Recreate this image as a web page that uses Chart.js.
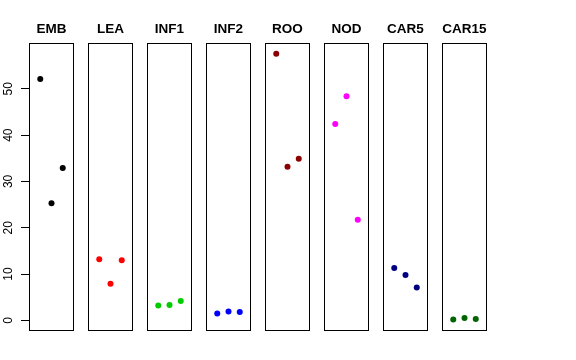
<!DOCTYPE html>
<html>
<head>
<meta charset="utf-8">
<script src="https://cdn.jsdelivr.net/npm/chart.js@4/dist/chart.umd.min.js"></script>
<style>
html,body{margin:0;padding:0;background:#fff;}
#wrap{position:relative;width:576px;height:360px;overflow:hidden;}
#wrap canvas{position:absolute;top:0;}
</style>
</head>
<body>
<div id="wrap"></div>
<script>
const categories = ["EMB","LEA","INF1","INF2","ROO","NOD","CAR5","CAR15"];
const colors = ["#000000","#FF0000","#00CD00","#0000FF","#8B0000","#FF00FF","#000080","#006400"];
const EMB = [52.1, 25.3, 32.9];
const LEA = [13.2, 7.9, 13.0];
const INF1 = [3.2, 3.3, 4.2];
const INF2 = [1.5, 1.9, 1.8];
const ROO = [57.6, 33.2, 34.9];
const NOD = [42.4, 48.4, 21.7];
const CAR5 = [11.3, 9.8, 7.1];
const CAR15 = [0.2, 0.5, 0.3];
const seriesValues = [EMB, LEA, INF1, INF2, ROO, NOD, CAR5, CAR15];
const yTicks = [0, 10, 20, 30, 40, 50];
const yMin = -2.3, yMax = 59.9;

const boxPlugin = {
  id: 'box',
  afterDraw(chart) {
    const a = chart.chartArea, ctx = chart.ctx;
    ctx.save();
    ctx.strokeStyle = '#000';
    ctx.lineWidth = 1;
    ctx.strokeRect(Math.round(a.left) + 0.5, Math.round(a.top) + 0.5,
                   Math.round(a.right - a.left) - 1, Math.round(a.bottom - a.top) - 1);
    ctx.restore();
  }
};

const wrap = document.getElementById('wrap');
const boxW = 45, P = 29, step = 59, firstLeft = 29;

categories.forEach((cat, i) => {
  const first = i === 0;
  const left = firstLeft + step * i - P;
  const w = boxW + 2 * P;
  const c = document.createElement('canvas');
  c.style.left = left + 'px';
  c.style.width = w + 'px';
  c.style.height = '360px';
  c.width = w; c.height = 360;
  wrap.appendChild(c);
  const vals = seriesValues[i];
  const yScale = {
    type: 'linear', min: yMin, max: yMax,
    display: first,
    border: {display: false},
    grid: {drawOnChartArea: false, tickLength: 8, color: '#000', lineWidth: 1},
    ticks: {
      color: '#000',
      font: {family: 'Liberation Sans', size: 12},
      minRotation: 90, maxRotation: 90,
      crossAlign: 'center',
      padding: 6
    }
  };
  if (first) {
    yScale.afterFit = s => { s.width = P; };
    yScale.afterBuildTicks = s => { s.ticks = yTicks.map(v => ({value: v})); };
  }
  new Chart(c, {
    type: 'scatter',
    data: {
      datasets: [{
        data: vals.map((v, k) => ({x: k + 1, y: v})),
        backgroundColor: colors[i],
        borderColor: colors[i],
        borderWidth: 0,
        pointRadius: 3,
        pointHoverRadius: 3
      }]
    },
    options: {
      responsive: false,
      animation: false,
      events: [],
      layout: {autoPadding: false, padding: {top: 0, bottom: 29, left: first ? 0 : P, right: P}},
      plugins: {
        legend: {display: false},
        tooltip: {enabled: false},
        title: {
          display: true,
          text: cat,
          fullSize: !first,
          color: '#000',
          font: {family: 'Liberation Sans', weight: 'bold', size: 13.5, lineHeight: 1.2},
          padding: {top: 21, bottom: 5.8}
        }
      },
      scales: {
        x: {type: 'linear', min: 0, max: 4, display: false},
        y: yScale
      }
    },
    plugins: [boxPlugin]
  });
});
</script>
</body>
</html>
